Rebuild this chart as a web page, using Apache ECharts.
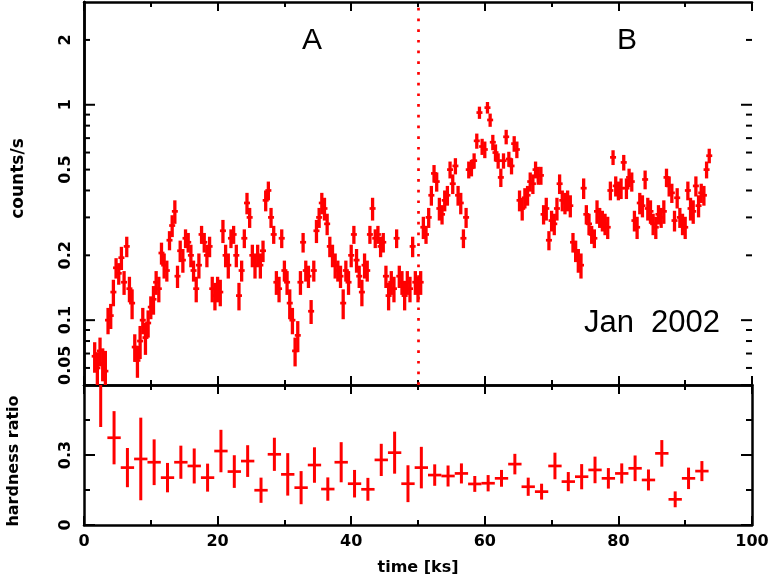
<!DOCTYPE html>
<html>
<head>
<meta charset="utf-8">
<script src="https://cdn.jsdelivr.net/npm/echarts@6/dist/echarts.min.js"></script>
<style>
  html, body { margin: 0; padding: 0; background: #fff; }
  #chart { width: 772px; height: 581px; }
</style>
</head>
<body>
<div id="chart"></div>
<script>
  // light curve rows: [time (ks), rate (counts/s), error]
  var lightCurve = [
    [1.6, 0.068, 0.011], [2.0, 0.060, 0.011], [2.4, 0.072, 0.011], [2.8, 0.063, 0.011], [3.2, 0.058, 0.014],
    [3.6, 0.100, 0.014], [4.0, 0.105, 0.014], [4.4, 0.135, 0.019], [4.8, 0.175, 0.019], [5.2, 0.165, 0.019],
    [5.6, 0.195, 0.024], [6.0, 0.150, 0.019], [6.4, 0.220, 0.024], [6.8, 0.140, 0.019], [7.2, 0.120, 0.019],
    [7.6, 0.075, 0.011], [8.0, 0.065, 0.011], [8.4, 0.080, 0.014], [8.8, 0.100, 0.014], [9.2, 0.083, 0.014],
    [9.6, 0.097, 0.014], [10.0, 0.115, 0.014], [10.4, 0.125, 0.019], [10.8, 0.150, 0.019], [11.2, 0.140, 0.019],
    [11.6, 0.205, 0.024], [12.0, 0.180, 0.024], [12.4, 0.170, 0.019], [12.8, 0.235, 0.024], [13.2, 0.275, 0.032],
    [13.6, 0.320, 0.040], [14.0, 0.160, 0.019], [14.4, 0.210, 0.024], [14.8, 0.190, 0.024], [15.2, 0.240, 0.024],
    [15.6, 0.230, 0.024], [16.0, 0.200, 0.024], [16.4, 0.170, 0.019], [16.8, 0.140, 0.019], [17.2, 0.180, 0.024],
    [17.6, 0.250, 0.024], [18.0, 0.230, 0.024], [18.4, 0.200, 0.024], [18.8, 0.220, 0.024], [19.2, 0.140, 0.019],
    [19.6, 0.130, 0.019], [20.0, 0.140, 0.019], [20.4, 0.135, 0.019], [20.8, 0.260, 0.032], [21.2, 0.200, 0.024],
    [21.6, 0.180, 0.024], [22.0, 0.240, 0.024], [22.4, 0.250, 0.024], [22.8, 0.200, 0.024], [23.2, 0.130, 0.019],
    [23.6, 0.170, 0.019], [24.0, 0.240, 0.024], [24.4, 0.350, 0.040], [24.8, 0.300, 0.032], [25.2, 0.200, 0.024],
    [25.6, 0.180, 0.024], [26.0, 0.200, 0.024], [26.4, 0.180, 0.024], [26.8, 0.210, 0.024], [27.2, 0.360, 0.040],
    [27.6, 0.400, 0.040], [28.0, 0.300, 0.032], [28.4, 0.250, 0.024], [28.8, 0.150, 0.019], [29.2, 0.140, 0.019],
    [29.6, 0.240, 0.024], [30.0, 0.170, 0.019], [30.4, 0.150, 0.019], [30.8, 0.120, 0.019], [31.2, 0.100, 0.014],
    [31.6, 0.072, 0.011], [32.0, 0.085, 0.014], [32.4, 0.150, 0.019], [32.8, 0.230, 0.024], [33.2, 0.170, 0.019],
    [33.6, 0.160, 0.019], [34.0, 0.110, 0.014], [34.4, 0.170, 0.019], [34.8, 0.260, 0.032], [35.2, 0.300, 0.032],
    [35.6, 0.350, 0.040], [36.0, 0.330, 0.040], [36.4, 0.280, 0.032], [36.8, 0.220, 0.024], [37.2, 0.200, 0.024],
    [37.6, 0.180, 0.024], [38.0, 0.170, 0.019], [38.4, 0.160, 0.019], [38.8, 0.120, 0.019], [39.2, 0.170, 0.019],
    [39.6, 0.150, 0.019], [40.0, 0.200, 0.024], [40.4, 0.250, 0.024], [40.8, 0.190, 0.024], [41.2, 0.160, 0.019],
    [41.6, 0.135, 0.019], [42.0, 0.180, 0.024], [42.4, 0.170, 0.019], [42.8, 0.250, 0.024], [43.2, 0.330, 0.040],
    [43.6, 0.240, 0.024], [44.0, 0.250, 0.024], [44.4, 0.220, 0.024], [44.8, 0.230, 0.024], [45.2, 0.160, 0.019],
    [45.6, 0.130, 0.019], [46.0, 0.150, 0.019], [46.4, 0.140, 0.019], [46.8, 0.240, 0.024], [47.2, 0.160, 0.019],
    [47.6, 0.150, 0.019], [48.0, 0.130, 0.019], [48.4, 0.150, 0.019], [48.8, 0.140, 0.019], [49.2, 0.220, 0.024],
    [49.6, 0.150, 0.019], [50.0, 0.140, 0.019], [50.4, 0.150, 0.019], [50.8, 0.270, 0.032], [51.2, 0.250, 0.024],
    [51.6, 0.300, 0.032], [52.0, 0.380, 0.040], [52.4, 0.480, 0.045], [52.8, 0.440, 0.045], [53.2, 0.330, 0.040],
    [53.6, 0.310, 0.032], [54.0, 0.360, 0.040], [54.4, 0.380, 0.040], [54.8, 0.500, 0.045], [55.2, 0.430, 0.045],
    [55.6, 0.520, 0.045], [56.0, 0.380, 0.040], [56.4, 0.350, 0.040], [56.8, 0.240, 0.024], [57.2, 0.300, 0.032],
    [57.6, 0.500, 0.045], [58.0, 0.510, 0.045], [58.4, 0.550, 0.045], [58.8, 0.680, 0.055], [59.2, 0.920, 0.060],
    [59.6, 0.640, 0.055], [60.0, 0.620, 0.055], [60.4, 0.970, 0.060], [60.8, 0.850, 0.060], [61.2, 0.670, 0.055],
    [61.6, 0.600, 0.055], [62.0, 0.550, 0.045], [62.4, 0.460, 0.045], [62.8, 0.550, 0.045], [63.2, 0.710, 0.055],
    [63.6, 0.560, 0.045], [64.0, 0.520, 0.045], [64.4, 0.660, 0.055], [64.8, 0.620, 0.055], [65.2, 0.360, 0.040],
    [65.6, 0.330, 0.040], [66.0, 0.370, 0.040], [66.4, 0.380, 0.040], [66.8, 0.440, 0.045], [67.2, 0.430, 0.045],
    [67.6, 0.500, 0.045], [68.0, 0.470, 0.045], [68.4, 0.470, 0.045], [68.8, 0.310, 0.032], [69.2, 0.330, 0.040],
    [69.6, 0.235, 0.024], [70.0, 0.290, 0.032], [70.4, 0.280, 0.032], [70.8, 0.330, 0.040], [71.2, 0.430, 0.045],
    [71.6, 0.360, 0.040], [72.0, 0.350, 0.040], [72.4, 0.360, 0.040], [72.8, 0.340, 0.040], [73.2, 0.230, 0.024],
    [73.6, 0.210, 0.024], [74.0, 0.190, 0.024], [74.4, 0.180, 0.024], [74.8, 0.410, 0.045], [75.2, 0.310, 0.032],
    [75.6, 0.280, 0.032], [76.0, 0.250, 0.024], [76.4, 0.240, 0.024], [76.8, 0.320, 0.040], [77.2, 0.300, 0.032],
    [77.6, 0.290, 0.032], [78.0, 0.280, 0.032], [78.4, 0.270, 0.032], [78.8, 0.400, 0.040], [79.2, 0.570, 0.045],
    [79.6, 0.420, 0.045], [80.0, 0.400, 0.040], [80.4, 0.410, 0.045], [80.8, 0.540, 0.045], [81.2, 0.410, 0.045],
    [81.6, 0.460, 0.045], [82.0, 0.440, 0.045], [82.4, 0.290, 0.032], [82.8, 0.270, 0.032], [83.2, 0.350, 0.040],
    [83.6, 0.340, 0.040], [84.0, 0.450, 0.045], [84.4, 0.330, 0.040], [84.8, 0.320, 0.040], [85.2, 0.280, 0.032],
    [85.6, 0.270, 0.032], [86.0, 0.310, 0.032], [86.4, 0.300, 0.032], [86.8, 0.320, 0.040], [87.2, 0.460, 0.045],
    [87.6, 0.420, 0.045], [88.0, 0.390, 0.040], [88.4, 0.290, 0.032], [88.8, 0.370, 0.040], [89.2, 0.300, 0.032],
    [89.6, 0.280, 0.032], [90.0, 0.270, 0.032], [90.4, 0.400, 0.040], [90.8, 0.330, 0.040], [91.2, 0.320, 0.040],
    [91.6, 0.420, 0.045], [92.0, 0.340, 0.040], [92.4, 0.390, 0.040], [92.8, 0.380, 0.040], [93.2, 0.500, 0.045],
    [93.6, 0.580, 0.045]
  ];

  // hardness ratio rows: [time (ks), ratio, error]; bins are 2 ks wide
  var hardness = [
    [2.5, 0.660, 0.240], [4.5, 0.374, 0.114], [6.5, 0.246, 0.084], [8.5, 0.283, 0.177], [10.5, 0.269, 0.098],
    [12.5, 0.203, 0.063], [14.5, 0.269, 0.071], [16.5, 0.253, 0.075], [18.5, 0.203, 0.060], [20.5, 0.317, 0.091],
    [22.5, 0.229, 0.070], [24.5, 0.274, 0.068], [26.5, 0.149, 0.054], [28.5, 0.303, 0.071], [30.5, 0.217, 0.091],
    [32.5, 0.160, 0.071], [34.5, 0.257, 0.076], [36.5, 0.154, 0.050], [38.5, 0.269, 0.086], [40.5, 0.177, 0.059],
    [42.5, 0.153, 0.049], [44.5, 0.279, 0.069], [46.5, 0.310, 0.090], [48.5, 0.177, 0.079], [50.5, 0.246, 0.089],
    [52.5, 0.214, 0.046], [54.5, 0.210, 0.045], [56.5, 0.221, 0.043], [58.5, 0.176, 0.034], [60.5, 0.179, 0.035],
    [62.5, 0.200, 0.036], [64.5, 0.261, 0.044], [66.5, 0.164, 0.039], [68.5, 0.143, 0.034], [70.5, 0.253, 0.057],
    [72.5, 0.186, 0.041], [74.5, 0.207, 0.054], [76.5, 0.236, 0.057], [78.5, 0.200, 0.044], [80.5, 0.221, 0.043],
    [82.5, 0.243, 0.055], [84.5, 0.193, 0.045], [86.5, 0.307, 0.057], [88.5, 0.110, 0.034], [90.5, 0.200, 0.046],
    [92.5, 0.231, 0.043]
  ];

  var rateLabels = [0.05, 0.1, 0.2, 0.5, 1, 2];
  var rateMajorTicks = [0.1, 1];
  var rateMinorTicks = [0.06, 0.07, 0.08, 0.09, 0.2, 0.3, 0.4, 0.5, 0.6, 0.7, 0.8, 0.9, 2];
  var rateMin = 0.05, rateMax = 3;
  var splitTime = 50;
  var lcHalfBin = 0.45, hrHalfBin = 1;

  var RED = '#ff0000';
  var FONT = '"DejaVu Sans", sans-serif';
  var LW = 2.5;

  var rateTicks = rateMajorTicks.map(function (v) { return [v, 11]; })
    .concat(rateMinorTicks.map(function (v) { return [v, 6]; }));

  function errBar(halfBin, width) {
    return function (params, api) {
      var t = api.value(0), v = api.value(1), e = api.value(2);
      var a = api.coord([t, v + e]), b = api.coord([t, v - e]);
      var l = api.coord([t - halfBin, v]), r = api.coord([t + halfBin, v]);
      return {
        type: 'group',
        children: [
          { type: 'line', shape: { x1: a[0], y1: a[1], x2: b[0], y2: b[1] }, style: { stroke: RED, lineWidth: width } },
          { type: 'line', shape: { x1: l[0], y1: l[1], x2: r[0], y2: r[1] }, style: { stroke: RED, lineWidth: 2.7 } }
        ]
      };
    };
  }

  var dom = document.getElementById('chart');
  var myChart = echarts.init(dom, null, { renderer: 'canvas' });

  function xAx(grid, pos, labels) {
    return {
      type: 'value', gridIndex: grid, position: pos, min: 0, max: 100, interval: 20,
      axisLine: { show: true, onZero: false, lineStyle: { color: '#000', width: LW } },
      axisTick: { show: true, inside: true, length: 9, lineStyle: { color: '#000', width: 2 } },
      minorTick: { show: true, splitNumber: 2, length: 5, lineStyle: { color: '#000', width: 2 } },
      axisLabel: { show: labels, margin: 9, color: '#000', fontFamily: FONT, fontWeight: 'bold', fontSize: 16 },
      splitLine: { show: false }
    };
  }

  var option = {
    animation: false,
    backgroundColor: '#fff',
    grid: [
      { left: 84, right: 20, top: 2, height: 383, outerBoundsMode: 'none' },
      { left: 84, right: 20, top: 385, height: 140, outerBoundsMode: 'none' }
    ],
    xAxis: [
      xAx(0, 'bottom', false),
      xAx(0, 'top', false),
      Object.assign(xAx(1, 'bottom', true), {
        name: 'time [ks]', nameLocation: 'middle', nameGap: 35,
        nameTextStyle: { color: '#000', fontFamily: FONT, fontWeight: 'bold', fontSize: 16 }
      }),
      xAx(1, 'top', false)
    ],
    yAxis: [
      {
        type: 'log', gridIndex: 0, position: 'left', min: rateMin, max: rateMax, logBase: 10,
        name: 'counts/s', nameLocation: 'middle', nameRotate: 90, nameGap: 57,
        nameTextStyle: { color: '#000', fontFamily: FONT, fontWeight: 'bold', fontSize: 17, padding: [0, 0, 0, 30] },
        axisLine: { show: true, lineStyle: { color: '#000', width: LW } },
        axisTick: { show: false }, axisLabel: { show: false }, splitLine: { show: false }
      },
      {
        type: 'log', gridIndex: 0, position: 'right', min: rateMin, max: rateMax, logBase: 10,
        axisLine: { show: true, lineStyle: { color: '#000', width: LW } },
        axisTick: { show: false }, axisLabel: { show: false }, splitLine: { show: false }
      },
      {
        type: 'value', gridIndex: 1, position: 'left', min: 0, max: 0.6, interval: 0.3,
        name: 'hardness ratio', nameLocation: 'middle', nameRotate: 90, nameGap: 62,
        nameTextStyle: { color: '#000', fontFamily: FONT, fontWeight: 'bold', fontSize: 16, padding: [0, 12, 0, 0] },
        axisLine: { show: true, onZero: false, lineStyle: { color: '#000', width: LW } },
        axisTick: { show: true, inside: true, length: 11, lineStyle: { color: '#000', width: 2 } },
        minorTick: { show: true, splitNumber: 2, length: 6, lineStyle: { color: '#000', width: 2 } },
        axisLabel: { show: true, rotate: 90, margin: 10, showMaxLabel: false, color: '#000', fontFamily: FONT, fontWeight: 'bold', fontSize: 16 },
        splitLine: { show: false }
      },
      {
        type: 'value', gridIndex: 1, position: 'right', min: 0, max: 0.6, interval: 0.3,
        axisLine: { show: true, onZero: false, lineStyle: { color: '#000', width: LW } },
        axisTick: { show: true, inside: true, length: 11, lineStyle: { color: '#000', width: 2 } },
        minorTick: { show: true, splitNumber: 2, length: 6, lineStyle: { color: '#000', width: 2 } },
        axisLabel: { show: false }, splitLine: { show: false }
      }
    ],
    graphic: [
      { type: 'text', x: 312, y: 41, style: { text: 'A', font: '30px "Liberation Sans", sans-serif', fill: '#000', align: 'center', verticalAlign: 'middle' } },
      { type: 'text', x: 627, y: 41, style: { text: 'B', font: '30px "Liberation Sans", sans-serif', fill: '#000', align: 'center', verticalAlign: 'middle' } },
      { type: 'text', x: 652, y: 323, style: { text: 'Jan  2002', font: '31px "Liberation Sans", sans-serif', fill: '#000', align: 'center', verticalAlign: 'middle' } }
    ],
    series: [
      {
        type: 'custom', name: 'rate', xAxisIndex: 0, yAxisIndex: 0, clip: true, silent: true,
        encode: { x: 0, y: 1 },
        renderItem: errBar(lcHalfBin, 3.3),
        data: lightCurve,
        markLine: {
          silent: true, symbol: ['none', 'none'], label: { show: false },
          lineStyle: { color: RED, width: 2.7, type: [2.7, 8] },
          data: [{ xAxis: splitTime }]
        }
      },
      {
        type: 'custom', name: 'rateTicks', xAxisIndex: 0, yAxisIndex: 0, clip: false, silent: true,
        encode: { x: 1, y: 0 },
        renderItem: function (params, api) {
          var v = api.value(0), len = api.value(1);
          var l = api.coord([0, v]), r = api.coord([100, v]);
          return {
            type: 'group',
            children: [
              { type: 'line', shape: { x1: l[0], y1: l[1], x2: l[0] + len, y2: l[1] }, style: { stroke: '#000', lineWidth: 2 } },
              { type: 'line', shape: { x1: r[0], y1: r[1], x2: r[0] - len, y2: r[1] }, style: { stroke: '#000', lineWidth: 2 } }
            ]
          };
        },
        data: rateTicks
      },
      {
        type: 'custom', name: 'rateLabels', xAxisIndex: 0, yAxisIndex: 0, clip: false, silent: true,
        encode: { y: 0 },
        renderItem: function (params, api) {
          var v = api.value(0);
          var p = api.coord([0, v]);
          return {
            type: 'text', x: p[0] - 10, y: p[1], rotation: Math.PI / 2,
            style: {
              text: String(v), font: 'bold 16px ' + FONT, fill: '#000',
              align: v === rateMin ? 'left' : 'center', verticalAlign: 'bottom'
            }
          };
        },
        data: rateLabels.map(function (v) { return [v]; })
      },
      {
        type: 'custom', name: 'hardness', xAxisIndex: 2, yAxisIndex: 2, clip: true, silent: true,
        encode: { x: 0, y: 1 },
        renderItem: errBar(hrHalfBin, 3),
        data: hardness
      }
    ]
  };

  myChart.setOption(option);
</script>
</body>
</html>
